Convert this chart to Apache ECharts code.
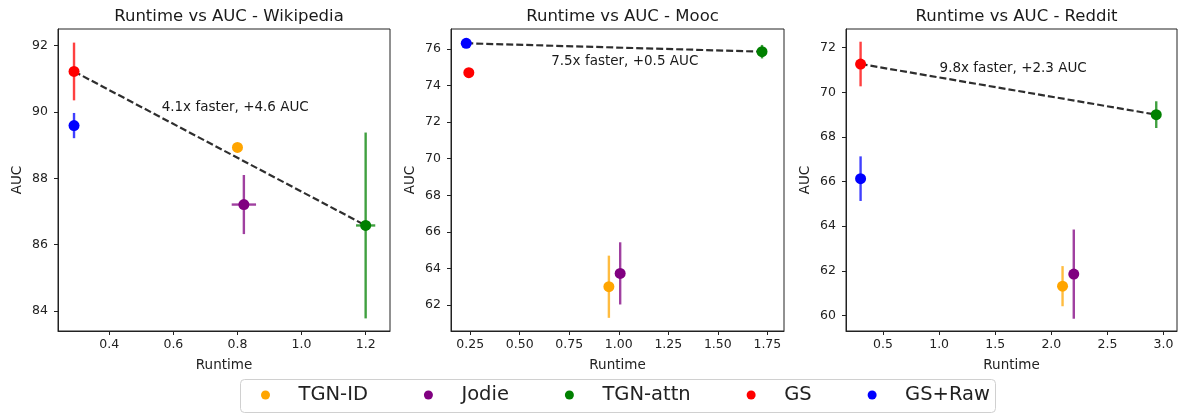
<!DOCTYPE html>
<html><head><meta charset="utf-8">
<script src="https://cdn.jsdelivr.net/npm/echarts@6/dist/echarts.min.js"></script>
<style>html,body{margin:0;padding:0;background:#fff}#c{width:1180px;height:414px}</style>
</head><body><div id="c"></div>
<script>
// ---- data ----
const methods = ['TGN-ID', 'Jodie', 'TGN-attn', 'GS', 'GS+Raw'];
const methodColors = ['#FFA500', '#800080', '#008000', '#FF0000', '#0000FF'];
const datasets = ['Wikipedia', 'Mooc', 'Reddit'];

const wikiRuntime    = [0.80, 0.82, 1.20, 0.29, 0.29];
const wikiAuc        = [88.93, 87.21, 86.58, 91.22, 89.59];
const wikiAucErr     = [0.10, 0.89, 2.80, 0.87, 0.38];
const wikiRuntimeErr = [0.00, 0.038, 0.03, 0.00, 0.00];

const moocRuntime    = [0.95, 1.007, 1.723, 0.243, 0.23];
const moocAuc        = [63.00, 63.73, 75.85, 74.70, 76.31];
const moocAucErr     = [1.70, 1.70, 0.37, 0.05, 0.05];
const moocRuntimeErr = [0.00, 0.01, 0.02, 0.00, 0.00];

const redditRuntime    = [2.10, 2.20, 2.935, 0.30, 0.30];
const redditAuc        = [61.31, 61.85, 69.00, 71.27, 66.13];
const redditAucErr     = [0.90, 2.00, 0.60, 1.00, 1.00];
const redditRuntimeErr = [0.00, 0.00, 0.00, 0.00, 0.00];

// dashed comparison line: [fromMethodIndex, toMethodIndex]
const wikiLinePair = [3, 2];
const moocLinePair = [4, 2];
const redditLinePair = [3, 2];

const annotationTexts = ['4.1x faster, +4.6 AUC', '7.5x faster, +0.5 AUC', '9.8x faster, +2.3 AUC'];
const annotationCoords = [[0.793, 90.14], [1.03, 75.34], [1.66, 71.08]];

const xTicks = [[0.4, 0.6, 0.8, 1.0, 1.2], [0.25, 0.5, 0.75, 1.0, 1.25, 1.5, 1.75], [0.5, 1.0, 1.5, 2.0, 2.5, 3.0]];
const xTickDecimals = [1, 2, 1];
const yTicks = [[84, 86, 88, 90, 92], [62, 64, 66, 68, 70, 72, 74, 76], [60, 62, 64, 66, 68, 70, 72]];
const xRanges = [[0.24, 1.276], [0.153, 1.834], [0.17, 3.12]];
const yRanges = [[83.4, 92.5], [60.58, 77.09], [59.3, 72.84]];

// ---- build ----
const all = [
  {rt: wikiRuntime, auc: wikiAuc, ae: wikiAucErr, re: wikiRuntimeErr, pair: wikiLinePair},
  {rt: moocRuntime, auc: moocAuc, ae: moocAucErr, re: moocRuntimeErr, pair: moocLinePair},
  {rt: redditRuntime, auc: redditAuc, ae: redditAucErr, re: redditRuntimeErr, pair: redditLinePair}
];
const FONT = 'DejaVu Sans';
const gridPos = [{left: 58, width: 332}, {left: 451, width: 333}, {left: 846, width: 331}];
const grids = [], xAxes = [], yAxes = [], titles = [], series = [];

gridPos.forEach((g, i) => {
  grids.push({left: g.left, width: g.width, top: 29, height: 302, show: true,
    borderColor: '#222', borderWidth: 1, backgroundColor: 'transparent', containLabel: false});
  titles.push({text: 'Runtime vs AUC - ' + datasets[i], left: g.left + g.width / 2, textAlign: 'center', top: 3,
    textStyle: {fontFamily: FONT, fontSize: 16.5, fontWeight: 'normal', color: '#1a1a1a'}});
  const dec = xTickDecimals[i];
  xAxes.push({type: 'value', gridIndex: i, min: xRanges[i][0], max: xRanges[i][1],
    name: 'Runtime', nameLocation: 'middle', nameGap: 27,
    nameTextStyle: {fontFamily: FONT, fontSize: 13.5, color: '#222'},
    axisLine: {show: true, onZero: false, lineStyle: {color: '#222'}},
    axisTick: {show: true, length: 4, customValues: xTicks[i], lineStyle: {color: '#222'}},
    axisLabel: {customValues: xTicks[i], margin: 7, fontFamily: FONT, fontSize: 12.5, color: '#222',
      formatter: v => Number(v).toFixed(dec)},
    splitLine: {show: false}});
  yAxes.push({type: 'value', gridIndex: i, min: yRanges[i][0], max: yRanges[i][1],
    name: 'AUC', nameLocation: 'middle', nameGap: 34,
    nameTextStyle: {fontFamily: FONT, fontSize: 13.5, color: '#222'},
    axisLine: {show: true, onZero: false, lineStyle: {color: '#222'}},
    axisTick: {show: true, length: 4, customValues: yTicks[i], lineStyle: {color: '#222'}},
    axisLabel: {customValues: yTicks[i], margin: 10, fontFamily: FONT, fontSize: 12.5, color: '#222',
      formatter: v => String(Math.round(v))},
    splitLine: {show: false}});

  const d = all[i];
  // dashed comparison line
  series.push({type: 'line', xAxisIndex: i, yAxisIndex: i, silent: true, symbol: 'none', z: 2,
    data: d.pair.map(k => [d.rt[k], d.auc[k]]),
    lineStyle: {type: [7, 3], color: '#000', opacity: 0.82, width: 2.2}});
  // annotation
  const txt = annotationTexts[i];
  series.push({type: 'custom', xAxisIndex: i, yAxisIndex: i, silent: true, z: 5,
    data: [annotationCoords[i]], encode: {x: 0, y: 1},
    renderItem: (params, api) => {
      const p = api.coord([api.value(0), api.value(1)]);
      return {type: 'text', x: p[0], y: p[1],
        style: {text: txt, align: 'center', verticalAlign: 'middle',
          font: '13.5px "DejaVu Sans"', fill: '#1a1a1a'}};
    }});

  methods.forEach((m, k) => {
    const col = methodColors[k];
    series.push({type: 'custom', name: m, xAxisIndex: i, yAxisIndex: i, z: 3,
      itemStyle: {color: col},
      data: [[d.rt[k], d.auc[k], d.ae[k], d.re[k]]],
      encode: {x: 0, y: 1},
      renderItem: (params, api) => {
        const x = api.value(0), y = api.value(1), ye = api.value(2), xe = api.value(3);
        const a = api.coord([x, y - ye]), b = api.coord([x, y + ye]);
        const c = api.coord([x - xe, y]), e = api.coord([x + xe, y]);
        const st = {stroke: col, lineWidth: 2.4, opacity: 0.75};
        return {type: 'group', children: [
          {type: 'line', shape: {x1: a[0], y1: a[1], x2: b[0], y2: b[1]}, style: st},
          {type: 'line', shape: {x1: c[0], y1: c[1], x2: e[0], y2: e[1]}, style: st}
        ]};
      }});
    series.push({type: 'scatter', name: m, xAxisIndex: i, yAxisIndex: i, z: 4,
      symbol: 'circle', symbolSize: 11, itemStyle: {color: col, opacity: 1},
      data: [[d.rt[k], d.auc[k]]]});
  });
});

const chart = echarts.init(document.getElementById('c'), null, {renderer: 'canvas'});
chart.setOption({
  animation: false,
  backgroundColor: '#fff',
  title: titles,
  grid: grids,
  xAxis: xAxes,
  yAxis: yAxes,
  graphic: [{type: 'rect', left: 240, top: 379, shape: {width: 755, height: 33, r: 4},
    style: {fill: '#fff', stroke: '#d0d0d0', lineWidth: 1}, z: -1}],
  legend: {data: methods.map(m => ({name: m, icon: 'circle'})), left: 261, top: 385,
    itemWidth: 56, itemHeight: 9, itemGap: 56, padding: 0,
    textStyle: {fontFamily: FONT, fontSize: 19.5, color: '#222'}},
  series: series
});
</script></body></html>
